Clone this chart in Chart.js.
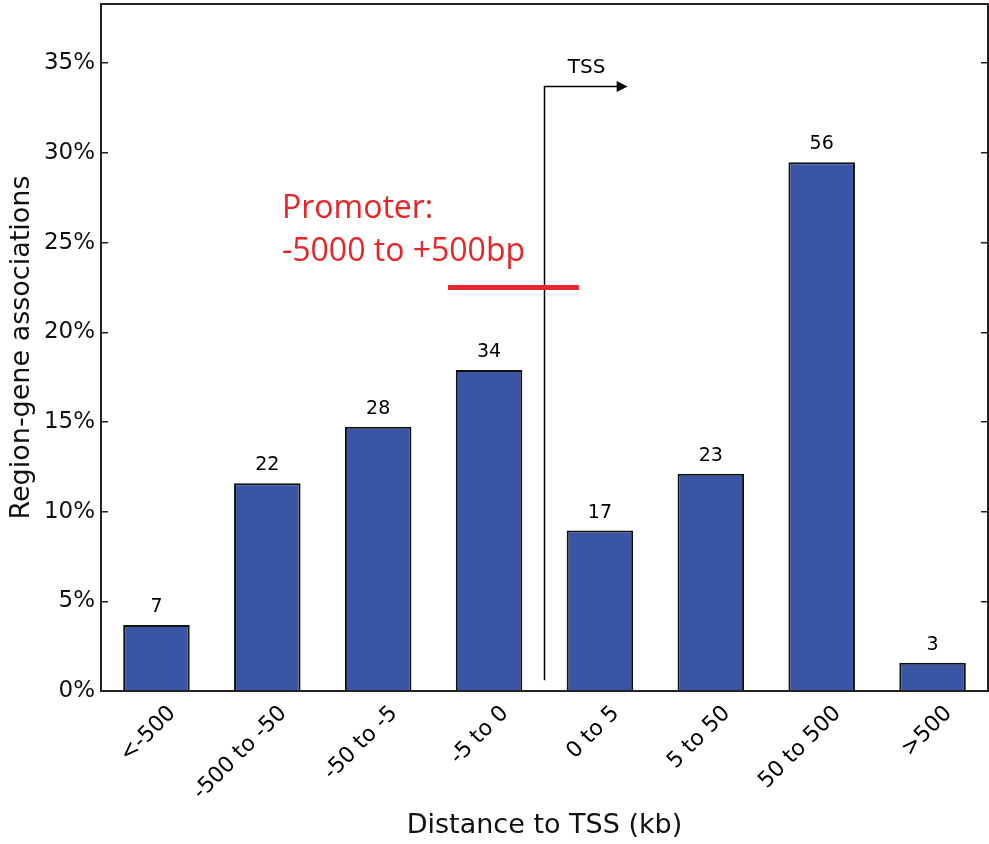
<!DOCTYPE html>
<html>
<head>
<meta charset="utf-8">
<title>Distance to TSS</title>
<script src="https://cdn.jsdelivr.net/npm/chart.js@4/dist/chart.umd.min.js"></script>
<style>
  html, body { margin: 0; padding: 0; background: #ffffff; }
  #wrap { width: 989px; height: 844px; }
</style>
</head>
<body>
<div id="wrap"><canvas id="c" width="989" height="844"></canvas></div>
<script>
// Distance bins (kb) relative to the transcription start site
const categories = ['<-500', '-500 to -50', '-50 to -5', '-5 to 0', '0 to 5', '5 to 50', '50 to 500', '>500'];
// Region-gene association counts per bin
const counts = [7, 22, 28, 34, 17, 23, 56, 3];
// Y axis tick values (percent)
const yTicks = [0, 5, 10, 15, 20, 25, 30, 35];
const yMax = 38.3;

const total = counts.reduce((a, b) => a + b, 0);
const percents = counts.map(c => c / total * 100);

const FONT = "'DejaVu Sans', sans-serif";

// keep the plot frame where the axis boxes put it
function noPad(s) {
  s.paddingTop = 0; s.paddingBottom = 0; s.paddingLeft = 0; s.paddingRight = 0;
}

// Value labels, rotated category labels and the TSS / promoter annotations
const annotate = {
  id: 'annotate',
  afterDatasetsDraw(chart) {
    const ctx = chart.ctx;
    const xs = chart.scales.x;
    const ys = chart.scales.y;
    const area = chart.chartArea;
    const meta = chart.getDatasetMeta(0);

    ctx.save();
    // count above each bar
    ctx.fillStyle = '#000';
    ctx.font = '19px ' + FONT;
    ctx.textAlign = 'center';
    ctx.textBaseline = 'alphabetic';
    meta.data.forEach((bar, i) => {
      ctx.fillText(String(counts[i]), bar.x, bar.y - 13);
    });

    // category labels, rotated 45 degrees
    ctx.font = '22px ' + FONT;
    ctx.textAlign = 'right';
    ctx.textBaseline = 'alphabetic';
    categories.forEach((lab, i) => {
      const px = xs.getPixelForValue(i);
      ctx.save();
      ctx.translate(px + 20, area.bottom + 23);
      ctx.rotate(-Math.PI / 4);
      ctx.fillText(lab, 0, 0);
      ctx.restore();
    });

    // TSS marker: vertical line with arrow pointing downstream
    const tx = xs.getPixelForValue(3.5);
    const tyBottom = ys.getPixelForValue(0.6);
    const tyTop = ys.getPixelForValue(33.7);
    const tArrow = xs.getPixelForValue(4.25);
    ctx.strokeStyle = '#000';
    ctx.lineWidth = 1.5;
    ctx.beginPath();
    ctx.moveTo(tx, tyBottom);
    ctx.lineTo(tx, tyTop);
    ctx.lineTo(tArrow - 8, tyTop);
    ctx.stroke();
    ctx.fillStyle = '#000';
    ctx.beginPath();
    ctx.moveTo(tArrow, tyTop);
    ctx.lineTo(tArrow - 11, tyTop - 5.5);
    ctx.lineTo(tArrow - 11, tyTop + 5.5);
    ctx.closePath();
    ctx.fill();
    ctx.font = '20px ' + FONT;
    ctx.textAlign = 'center';
    ctx.fillText('TSS', xs.getPixelForValue(3.88), ys.getPixelForValue(34.45));

    // promoter window
    ctx.strokeStyle = '#e8262b';
    ctx.lineWidth = 5;
    ctx.beginPath();
    ctx.moveTo(xs.getPixelForValue(2.63), ys.getPixelForValue(22.5));
    ctx.lineTo(xs.getPixelForValue(3.81), ys.getPixelForValue(22.5));
    ctx.stroke();

    ctx.fillStyle = '#ec2227';
    ctx.font = "32px 'Open Sans', sans-serif";
    ctx.textAlign = 'left';
    const px0 = xs.getPixelForValue(1.132);
    ctx.fillText('Promoter:', px0, ys.getPixelForValue(26.37));
    ctx.fillText('-5000 to +500bp', px0, ys.getPixelForValue(23.97));
    ctx.restore();
  }
};

new Chart(document.getElementById('c'), {
  type: 'bar',
  data: {
    labels: categories,
    datasets: [{
      data: percents,
      backgroundColor: '#3a55a3',
      borderColor: '#111',
      borderWidth: 2,
      barPercentage: 0.6,
      categoryPercentage: 1.0
    }]
  },
  options: {
    responsive: false,
    animation: false,
    devicePixelRatio: 1,
    layout: { padding: { top: 4, left: 0, right: 0, bottom: 0 } },
    plugins: {
      legend: { display: false },
      tooltip: { enabled: false }
    },
    scales: {
      x: {
        type: 'category',
        position: 'bottom',
        grid: { display: false },
        ticks: { display: false },
        border: { display: true, color: '#222', width: 2 },
        title: {
          display: true,
          text: 'Distance to TSS (kb)',
          color: '#111',
          font: { family: FONT, size: 27 },
          padding: { top: 0, bottom: 2 }
        },
        afterFit(s) { s.height = 153; noPad(s); }
      },
      xTop: {
        type: 'category',
        position: 'top',
        grid: { display: false },
        ticks: { display: false },
        border: { display: true, color: '#222', width: 2 },
        afterFit(s) { s.height = 0; noPad(s); }
      },
      y: {
        type: 'linear',
        position: 'left',
        min: 0,
        max: yMax,
        afterBuildTicks(s) { s.ticks = yTicks.map(v => ({ value: v })); },
        ticks: {
          color: '#111',
          font: { family: FONT, size: 23 },
          padding: 13,
          callback: v => v + '%'
        },
        grid: { drawOnChartArea: false, drawTicks: true, tickLength: -7, color: '#222', lineWidth: 1.5 },
        border: { display: true, color: '#222', width: 2 },
        title: {
          display: true,
          text: 'Region-gene associations',
          color: '#111',
          font: { family: FONT, size: 27 },
          padding: { top: 6, bottom: 0 }
        },
        afterFit(s) { s.width = 101; noPad(s); }
      },
      yRight: {
        type: 'linear',
        position: 'right',
        min: 0,
        max: yMax,
        afterBuildTicks(s) { s.ticks = yTicks.map(v => ({ value: v })); },
        ticks: { display: false },
        grid: { drawOnChartArea: false, drawTicks: true, tickLength: -7, color: '#222', lineWidth: 1.5 },
        border: { display: true, color: '#222', width: 2 },
        afterFit(s) { s.width = 1; noPad(s); }
      }
    }
  },
  plugins: [annotate]
});
</script>
</body>
</html>
